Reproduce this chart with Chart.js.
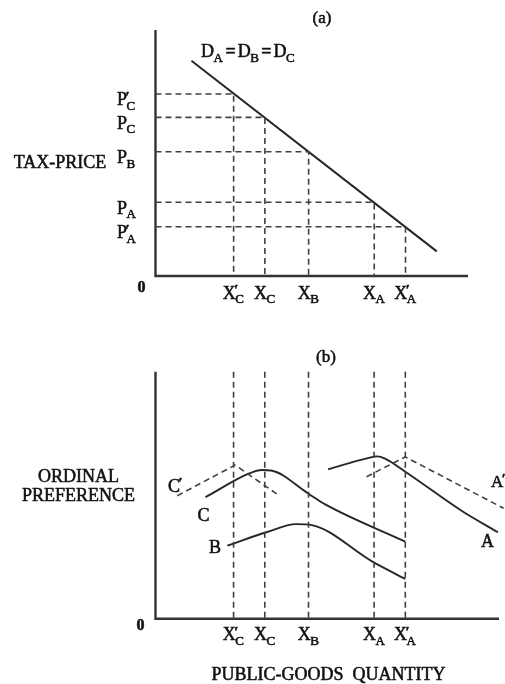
<!DOCTYPE html>
<html>
<head>
<meta charset="utf-8">
<script src="https://cdn.jsdelivr.net/npm/chart.js@4.4.1/dist/chart.umd.min.js"></script>
<style>
  html, body { margin: 0; padding: 0; background: #fff; }
  #wrap { position: relative; width: 505px; height: 684px; }
  #wrap canvas { position: absolute; left: 0; }
  #panelA { top: 0; }
  #panelB { top: 330px; }
</style>
</head>
<body>
<div id="wrap">
  <canvas id="panelA" width="505" height="330"></canvas>
  <canvas id="panelB" width="505" height="354"></canvas>
</div>
<script>
// Quantities demanded: X'C, XC, XB, XA, X'A
const quantities = [25, 35, 49, 70, 80];
// Tax-prices on the common demand curve: P'C, PC, PB, PA, P'A
const prices = [74, 64.5, 50.5, 30, 20];
// Tick labels as [letter, subscript, primed]
const quantityLabels = [['X', 'C', true], ['X', 'C', false], ['X', 'B', false], ['X', 'A', false], ['X', 'A', true]];
const priceLabels = [['P', 'C', true], ['P', 'C', false], ['P', 'B', false], ['P', 'A', false], ['P', 'A', true]];

// Demand line D_A = D_B = D_C (end points)
const demandQ = [11.5, 90];
const demandP = [87.5, 10];

// Ordinal preference curves in panel (b)
const prefCx  = [16, 30, 34, 37, 49, 54.5, 80];
const prefCy  = [49.2, 58.8, 60.2, 60, 50.6, 46.2, 31.2];
const prefC2x = [7, 25.5, 39.3];
const prefC2y = [49.8, 62.2, 50.1];
const prefBx  = [23, 35.5, 45, 48.5, 70, 80];
const prefBy  = [29.6, 35, 38.3, 38.2, 22.7, 16.1];
const prefAx  = [55.3, 68, 71, 73.5, 80, 98.5, 109.7];
const prefAy  = [60.5, 65, 65.7, 64.8, 59.5, 43.3, 35];
const prefA2x = [67.6, 80, 111.5];
const prefA2y = [57.5, 65.5, 44.7];

const SERIF = '"Liberation Serif", "Times New Roman", Times, serif';
const INK = '#111';
const LINE = '#262626';
const DASH = '#404040';

const pts = (xs, ys) => xs.map((x, i) => ({ x: x, y: ys[i] }));
const fnt = (size, weight) => (weight || 'normal') + ' ' + size + 'px ' + SERIF;

// filled text with a hairline stroke so the serif strokes read a little heavier
function inkText(ctx, str, x, y) {
  ctx.fillStyle = INK;
  ctx.strokeStyle = INK;
  ctx.lineWidth = 0.55;
  ctx.lineJoin = 'round';
  ctx.fillText(str, x, y);
  ctx.strokeText(str, x, y);
}

// letter with optional prime and subscript, e.g. X'_C
function drawSymbol(ctx, x, y, lab, align, mainSize, subSize) {
  const base = lab[0], sub = lab[1], prime = lab[2];
  ctx.font = fnt(mainSize);
  const wb = ctx.measureText(base).width;
  ctx.font = fnt(subSize);
  const ws = sub ? ctx.measureText(sub).width : 0;
  const wp = prime ? mainSize * 0.3 : 0;
  const w = wb + Math.max(ws, wp);
  const x0 = align === 'center' ? x - w / 2 : (align === 'right' ? x - w : x);
  ctx.textAlign = 'left';
  ctx.textBaseline = 'alphabetic';
  ctx.font = fnt(mainSize);
  inkText(ctx, base, x0, y);
  if (sub) {
    ctx.font = fnt(subSize);
    inkText(ctx, sub, x0 + wb - 0.5, y + 4.5);
  }
  if (prime) {
    ctx.font = fnt(Math.round(mainSize * 0.85), 'bold');
    inkText(ctx, '\u2032', x0 + wb - 1.5, y - 3.5);
  }
}

function plainText(ctx, str, x, y, size, align, weight) {
  ctx.font = fnt(size, weight);
  ctx.textAlign = align || 'center';
  ctx.textBaseline = 'alphabetic';
  inkText(ctx, str, x, y);
}

function lineSet(data, opts) {
  return Object.assign({
    data: data,
    borderColor: LINE,
    borderWidth: 1.9,
    pointRadius: 0,
    fill: false,
    showLine: true,
    tension: 0,
    clip: false
  }, opts || {});
}

const dashed = { borderColor: DASH, borderWidth: 1.6, borderDash: [6, 4] };

const baseOptions = (xmax, padding) => ({
  responsive: false,
  animation: false,
  devicePixelRatio: 1,
  layout: { padding: padding },
  plugins: { legend: { display: false }, tooltip: { enabled: false } },
  scales: {
    x: { type: 'linear', min: 0, max: xmax, display: false },
    y: { type: 'linear', min: 0, max: 100, display: false }
  },
  events: []
});

// ---------- Panel (a): tax-price against quantity ----------
const datasetsA = [];
quantities.forEach((q, i) => {
  datasetsA.push(lineSet([{ x: 0, y: prices[i] }, { x: q, y: prices[i] }, { x: q, y: 0 }], dashed));
});
datasetsA.push(lineSet(pts(demandQ, demandP), { borderWidth: 2 }));
datasetsA.push(lineSet([{ x: 0, y: 100 }, { x: 0, y: 0 }, { x: 100, y: 0 }], { borderColor: '#333', borderWidth: 2.4 }));

const textA = {
  id: 'textA',
  afterDatasetsDraw(chart) {
    const ctx = chart.ctx, xs = chart.scales.x, ys = chart.scales.y;
    const x0 = xs.getPixelForValue(0), y0 = ys.getPixelForValue(0);
    ctx.save();
    plainText(ctx, '(a)', 322, 23, 17);
    plainText(ctx, 'TAX-PRICE', 60, 168, 18);
    plainText(ctx, '0', x0 - 14, y0 + 16, 16, 'center', 'bold');
    priceLabels.forEach((lab, i) => {
      drawSymbol(ctx, x0 - 38.5, ys.getPixelForValue(prices[i]) + 11.5, lab, 'left', 18, 13);
    });
    quantityLabels.forEach((lab, i) => {
      drawSymbol(ctx, xs.getPixelForValue(quantities[i]), y0 + 22.5, lab, 'center', 18, 13);
    });
    // D_A = D_B = D_C
    let x = 201;
    const parts = ['A', 'B', 'C'];
    parts.forEach((s, k) => {
      drawSymbol(ctx, x, 57, ['D', s, false], 'left', 18, 13);
      ctx.font = fnt(18);
      const wD = ctx.measureText('D').width;
      ctx.font = fnt(13);
      x += wD + ctx.measureText(s).width;
      if (k < parts.length - 1) {
        x += 2;
        plainText(ctx, '=', x, 57, 18, 'left', 'bold');
        ctx.font = fnt(18, 'bold');
        x += ctx.measureText('=').width + 2;
      }
    });
    ctx.restore();
  }
};

new Chart(document.getElementById('panelA'), {
  type: 'scatter',
  data: { datasets: datasetsA },
  options: baseOptions(100, { left: 155.5, right: 37, top: 30, bottom: 54 }),
  plugins: [textA]
});

// ---------- Panel (b): ordinal preference against quantity ----------
const datasetsB = [];
quantities.forEach((q) => {
  datasetsB.push(lineSet([{ x: q, y: 100 }, { x: q, y: 0 }], dashed));
});
datasetsB.push(lineSet(pts(prefC2x, prefC2y), dashed));
datasetsB.push(lineSet(pts(prefA2x, prefA2y), dashed));
datasetsB.push(lineSet(pts(prefCx, prefCy), { cubicInterpolationMode: 'monotone' }));
datasetsB.push(lineSet(pts(prefBx, prefBy), { cubicInterpolationMode: 'monotone' }));
datasetsB.push(lineSet(pts(prefAx, prefAy), { cubicInterpolationMode: 'monotone' }));
datasetsB.push(lineSet([{ x: 0, y: 100 }, { x: 0, y: 0 }, { x: 110, y: 0 }], { borderColor: '#333', borderWidth: 2.4 }));

const textB = {
  id: 'textB',
  afterDatasetsDraw(chart) {
    const ctx = chart.ctx, xs = chart.scales.x, ys = chart.scales.y;
    const x0 = xs.getPixelForValue(0), y0 = ys.getPixelForValue(0);
    ctx.save();
    plainText(ctx, '(b)', 326, 32, 17);
    plainText(ctx, 'ORDINAL', 78.5, 151.5, 18);
    plainText(ctx, 'PREFERENCE', 78.5, 170.5, 18);
    plainText(ctx, '0', x0 - 15, y0 + 11.5, 16, 'center', 'bold');
    quantityLabels.forEach((lab, i) => {
      drawSymbol(ctx, xs.getPixelForValue(quantities[i]), y0 + 21.5, lab, 'center', 18, 13);
    });
    plainText(ctx, 'PUBLIC-GOODS  QUANTITY', 328.5, 350, 18);
    // curve names
    drawSymbol(ctx, 168, 161.7, ['C', '', true], 'left', 18, 13);
    drawSymbol(ctx, 203.5, 190.7, ['C', '', false], 'center', 18, 13);
    drawSymbol(ctx, 215, 223, ['B', '', false], 'center', 18, 13);
    drawSymbol(ctx, 487.5, 217, ['A', '', false], 'center', 18, 13);
    drawSymbol(ctx, 491, 157, ['A', '', true], 'left', 17, 13);
    ctx.restore();
  }
};

new Chart(document.getElementById('panelB'), {
  type: 'scatter',
  data: { datasets: datasetsB },
  options: baseOptions(110, { left: 155.5, right: 6, top: 41.7, bottom: 65.3 }),
  plugins: [textB]
});
</script>
</body>
</html>
